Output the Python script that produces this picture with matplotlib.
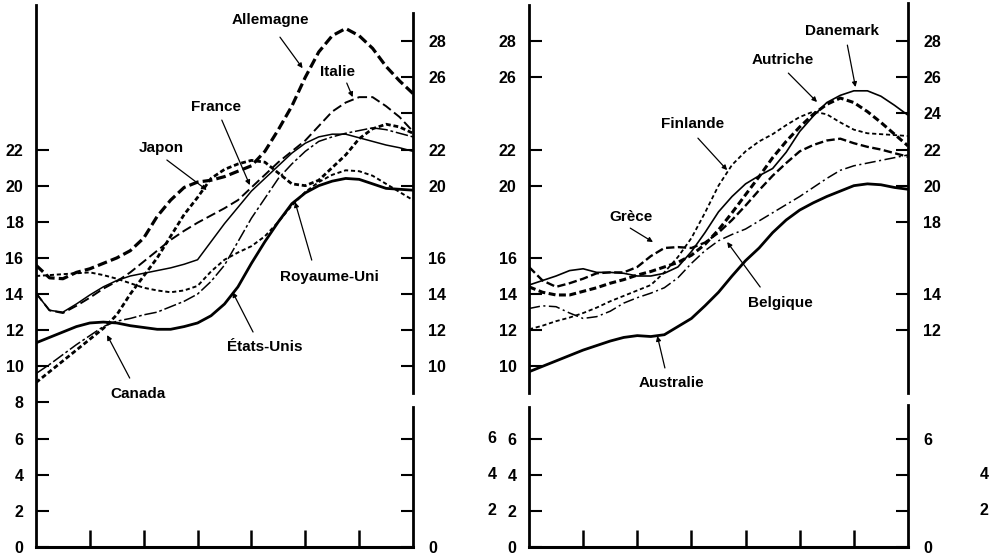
import matplotlib
matplotlib.use("Agg")
import matplotlib.pyplot as plt

plt.rcParams["font.family"] = ["Liberation Sans", "DejaVu Sans"]
plt.rcParams["font.weight"] = "bold"
plt.rcParams["lines.scale_dashes"] = False

# x positions (years), shared by every curve
years = [1950 + 2.5 * i for i in range(29)]

# left panel
allemagne = [15.6, 14.9, 14.85, 15.2, 15.4, 15.7, 16.0, 16.4, 17.1, 18.3, 19.2, 19.9, 20.2, 20.3, 20.5,
             20.8, 21.1, 21.9, 23.1, 24.4, 26.0, 27.4, 28.3, 28.7, 28.3, 27.6, 26.6, 25.8, 25.1]
italie = [14.05, 13.1, 12.95, 13.35, 13.8, 14.3, 14.7, 15.2, 15.8, 16.4, 17.0, 17.5, 17.95, 18.35, 18.75,
          19.2, 19.9, 20.6, 21.3, 21.9, 22.5, 23.3, 24.1, 24.6, 24.9, 24.9, 24.4, 23.8, 23.0]
france = [14.05, 13.1, 13.0, 13.45, 13.95, 14.4, 14.75, 15.0, 15.15, 15.3, 15.45, 15.65, 15.9, 16.9, 17.9,
          18.8, 19.7, 20.4, 21.1, 21.8, 22.35, 22.7, 22.85, 22.85, 22.65, 22.45, 22.25, 22.1, 21.9]
canada = [9.6, 10.1, 10.65, 11.2, 11.7, 12.2, 12.5, 12.65, 12.85, 13.0, 13.3, 13.6, 14.0, 14.7, 15.6,
          16.9, 18.2, 19.3, 20.4, 21.2, 21.9, 22.45, 22.7, 22.9, 23.05, 23.2, 23.1, 22.9, 22.7]
japon = [9.1, 9.7, 10.3, 10.9, 11.5, 12.1, 12.85, 14.0, 15.0, 16.0, 17.2, 18.4, 19.35, 20.4, 20.9,
         21.2, 21.4, 21.3, 20.7, 20.1, 20.0, 20.3, 21.0, 21.7, 22.6, 23.15, 23.4, 23.25, 22.9]
royaume_uni = [15.0, 15.05, 15.1, 15.15, 15.2, 15.05, 14.85, 14.6, 14.35, 14.2, 14.1, 14.2, 14.45, 15.25, 15.9,
               16.3, 16.65, 17.2, 18.0, 18.9, 19.65, 20.2, 20.6, 20.85, 20.8, 20.55, 20.1, 19.65, 19.2]
etats_unis = [11.3, 11.6, 11.9, 12.2, 12.4, 12.45, 12.4, 12.25, 12.15, 12.05, 12.05, 12.2, 12.4, 12.8, 13.45,
              14.4, 15.7, 16.9, 18.0, 19.0, 19.6, 20.0, 20.25, 20.4, 20.35, 20.1, 19.85, 19.8, 19.75]

# right panel
danemark = [14.5, 14.75, 15.0, 15.3, 15.4, 15.2, 15.2, 15.15, 15.0, 15.0, 15.15, 15.5, 16.35, 17.4, 18.55,
            19.4, 20.1, 20.55, 20.95, 21.85, 23.0, 23.85, 24.6, 25.0, 25.25, 25.25, 24.95, 24.45, 23.9]
autriche = [14.4, 14.1, 13.95, 13.95, 14.15, 14.35, 14.6, 14.8, 15.05, 15.25, 15.5, 15.75, 16.15, 16.75, 17.55,
            18.5, 19.5, 20.5, 21.55, 22.45, 23.25, 23.95, 24.5, 24.85, 24.6, 24.1, 23.5, 22.85, 22.2]
finlande = [12.05, 12.25, 12.5, 12.7, 12.95, 13.25, 13.6, 13.9, 14.2, 14.5, 15.2, 16.05, 17.1, 18.5, 20.0,
            21.15, 21.9, 22.45, 22.85, 23.35, 23.8, 24.1, 23.95, 23.5, 23.1, 22.9, 22.85, 22.8, 22.75]
grece = [15.5, 14.75, 14.4, 14.6, 14.85, 15.15, 15.2, 15.2, 15.5, 16.1, 16.55, 16.6, 16.55, 16.85, 17.4,
         18.1, 18.9, 19.75, 20.55, 21.25, 21.9, 22.25, 22.5, 22.6, 22.35, 22.15, 22.0, 21.8, 21.6]
belgique = [13.2, 13.35, 13.3, 12.95, 12.65, 12.75, 13.05, 13.5, 13.8, 14.05, 14.35, 14.9, 15.7, 16.4, 16.95,
            17.3, 17.6, 18.05, 18.5, 18.95, 19.4, 19.9, 20.4, 20.85, 21.1, 21.25, 21.4, 21.55, 21.7]
australie = [9.7, 10.0, 10.3, 10.6, 10.9, 11.15, 11.4, 11.6, 11.7, 11.65, 11.75, 12.2, 12.65, 13.35, 14.1,
             15.0, 15.85, 16.55, 17.4, 18.1, 18.65, 19.05, 19.4, 19.7, 20.0, 20.1, 20.05, 19.9, 19.8]

x_ticks = [1960, 1970, 1980, 1990, 2000, 2010]

fig = plt.figure(figsize=(9.92, 5.57), dpi=100)
ax1 = fig.add_axes([36 / 992, 10 / 557, 377 / 992, 542 / 557])
ax2 = fig.add_axes([529 / 992, 10 / 557, 379 / 992, 542 / 557])

lab = dict(fontsize=11, fontweight="bold", ha="center", va="center")
arr = dict(arrowstyle="-|>", lw=0.9, color="black", mutation_scale=7, shrinkA=0, shrinkB=0)


def draw(ax, series, labels, spine_left, spine_right):
    for vals, lw, ls in series:
        ax.plot(years, vals, color="black", lw=lw, linestyle=ls, solid_capstyle="butt")
    for text, pos, tail, tip in labels:
        ax.text(pos[0], pos[1], text, **lab)
        ax.annotate("", xy=tip, xytext=tail, arrowprops=arr)
    ax.set_xlim(1950, 2020)
    ax.set_ylim(0, 30)
    for s in ["left", "right", "top"]:
        ax.spines[s].set_visible(False)
    ax.spines["bottom"].set_linewidth(2.2)
    tr = ax.get_yaxis_transform()
    for y0, y1 in spine_left:
        ax.plot([0, 0], [y0, y1], color="black", lw=2.0, transform=tr, clip_on=False)
    for y0, y1 in spine_right:
        ax.plot([1, 1], [y0, y1], color="black", lw=2.0, transform=tr, clip_on=False)
    ax.set_xticks(x_ticks)
    ax.set_xticklabels([])
    ax.tick_params(axis="x", direction="in", length=12, width=1.8)


draw(ax1,
     [(allemagne, 2.3, (0, (7, 3))), (italie, 1.4, (0, (7, 3))), (france, 1.1, "-"),
      (canada, 1.1, (0, (9, 2, 2, 2))), (japon, 2.0, (0, (3.5, 2))), (royaume_uni, 1.4, (0, (3, 2))),
      (etats_unis, 2.0, "-")],
     [("Allemagne", (1993.6, 29.16), (1995.3, 28.22), (1999.5, 26.5)),
      ("Italie", (2006.0, 26.29), (2007.7, 25.68), (2008.8, 24.9)),
      ("France", (1983.4, 24.35), (1984.5, 23.63), (1989.7, 20.03)),
      ("Japon", (1973.2, 22.08), (1974.3, 21.42), (1981.7, 19.76)),
      ("Royaume-Uni", (2004.4, 14.94), (2001.2, 15.88), (1998.1, 19.09)),
      ("États-Unis", (1992.5, 11.07), (1990.3, 11.9), (1986.5, 14.11)),
      ("Canada", (1968.9, 8.47), (1967.4, 9.35), (1963.2, 11.73))],
     [(0, 30)], [(8.52, 29.55), (0, 7.75)])

draw(ax2,
     [(danemark, 1.2, "-"), (autriche, 2.2, (0, (5, 2.5))), (finlande, 1.3, (0, (3, 2))),
      (grece, 1.7, (0, (6, 2.5))), (belgique, 1.1, (0, (8, 2.5, 1.5, 2.5))), (australie, 2.0, "-")],
     [("Danemark", (2007.9, 28.56), (2008.8, 27.78), (2010.3, 25.46)),
      ("Autriche", (1996.9, 26.95), (1997.9, 26.23), (2003.2, 24.63)),
      ("Finlande", (1980.3, 23.41), (1981.2, 22.63), (1986.6, 20.86)),
      ("Grèce", (1968.9, 18.26), (1968.7, 17.65), (1972.9, 16.88)),
      ("Belgique", (1996.4, 13.5), (1992.7, 14.39), (1986.6, 16.88)),
      ("Australie", (1976.4, 9.08), (1975.1, 9.91), (1973.7, 11.68))],
     [(8.52, 30), (0, 7.75)], [(8.52, 30.1), (0, 7.86)])

tick_font = dict(fontsize=11.5, fontweight="bold")

# left panel, left axis
left_ticks = [0, 2, 4, 6, 8, 10, 12, 14, 16, 18, 20, 22]
ax1.set_yticks(left_ticks)
ax1.set_yticklabels([str(v) for v in left_ticks], **tick_font)
ax1.tick_params(axis="y", direction="in", length=9, width=1.5, pad=9)

# left panel, right axis
r1 = ax1.twinx()
r1.set_ylim(0, 30)
for s in r1.spines.values():
    s.set_visible(False)
r1_ticks = [0, 2, 4, 6, 10, 12, 14, 16, 20, 22, 24, 26, 28]
r1_labels = ["0", "", "", "", "10", "12", "14", "16", "20", "22", "", "26", "28"]
r1.set_yticks(r1_ticks)
r1.set_yticklabels(r1_labels, **tick_font)
r1.tick_params(axis="y", direction="in", length=9, width=1.5, pad=11)

# right panel, left axis
l2_ticks = [0, 2, 4, 6, 10, 12, 14, 16, 20, 22, 26, 28]
ax2.set_yticks(l2_ticks)
ax2.set_yticklabels([str(v) for v in l2_ticks], **tick_font)
ax2.tick_params(axis="y", direction="in", length=9, width=1.5, pad=9)
for v in [2, 4, 6]:
    ax2.text(-0.085, v, str(v), transform=ax2.get_yaxis_transform(), ha="right", va="center", **tick_font)

# right panel, right axis
r2 = ax2.twinx()
r2.set_ylim(0, 30)
for s in r2.spines.values():
    s.set_visible(False)
r2_ticks = [0, 2, 4, 6, 12, 14, 18, 20, 22, 24, 26, 28]
r2_labels = ["0", "", "", "6", "12", "14", "18", "20", "22", "24", "26", "28"]
r2.set_yticks(r2_ticks)
r2.set_yticklabels(r2_labels, **tick_font)
r2.tick_params(axis="y", direction="in", length=9, width=1.5, pad=11)
for v in [2, 4]:
    r2.text(1.188, v, str(v), transform=r2.get_yaxis_transform(), ha="left", va="center", **tick_font)

fig.savefig("out.png", dpi=100, facecolor="white")
